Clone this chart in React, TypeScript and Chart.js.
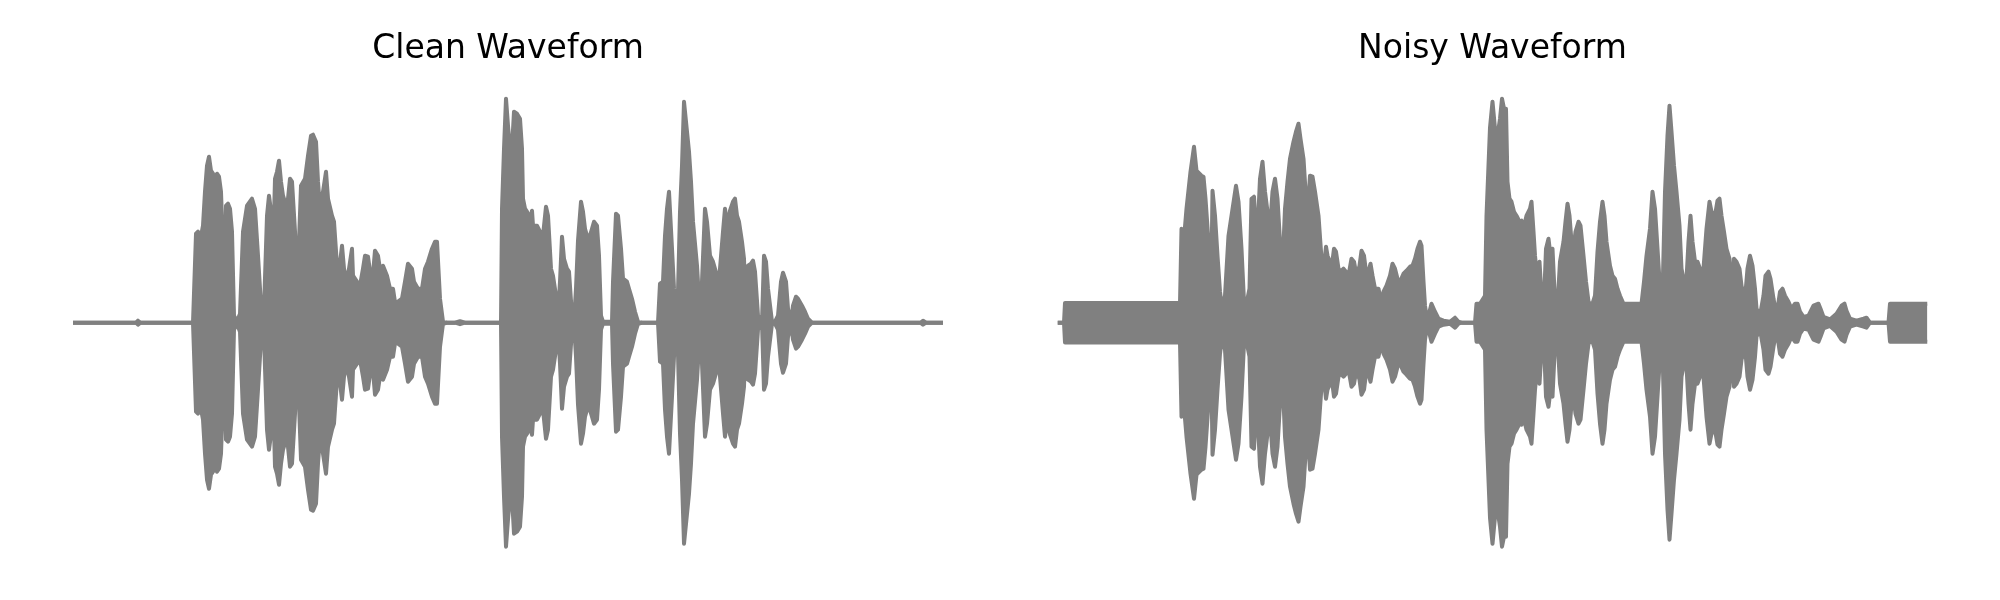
import React, { useEffect, useRef } from "react";
import { Chart, registerables } from "chart.js";

Chart.register(...registerables);

// Titles of the two panels
const panelTitles = ["Clean Waveform", "Noisy Waveform"];

// Clip length in seconds (x axis range)
const clipDuration = 8.7;

// Amplitude envelope of the clean waveform: [time (s), amplitude]
const cleanEnvelope: [number, number][] = [
  [0, 0], [0.63, 0], [0.65, 0.008], [0.675, 0], [1.2, 0],
  [1.23, 0.356], [1.25, 0.364], [1.27, 0.324], [1.3, 0.388], [1.32, 0.524], [1.34, 0.628], [1.36, 0.664], [1.38, 0.608],
  [1.4, 0.596], [1.42, 0.564], [1.44, 0.596], [1.46, 0.584], [1.48, 0.524], [1.5, 0.296], [1.51, 0.028], [1.53, 0.468],
  [1.55, 0.476], [1.57, 0.456], [1.59, 0.364], [1.61, 0.028], [1.64, 0.004], [1.67, 0.036], [1.7, 0.364], [1.74, 0.468],
  [1.79, 0.496], [1.82, 0.456], [1.85, 0.268], [1.89, 0.004], [1.91, 0.056], [1.94, 0.428], [1.96, 0.508], [1.99, 0.416],
  [2.0, 0.268], [2.02, 0.576], [2.04, 0.604], [2.06, 0.648], [2.08, 0.564], [2.1, 0.508], [2.14, 0.456], [2.17, 0.576],
  [2.19, 0.564], [2.22, 0.364], [2.24, 0.164], [2.26, 0.324], [2.28, 0.548], [2.32, 0.576], [2.35, 0.668], [2.38, 0.748],
  [2.4, 0.752], [2.43, 0.724], [2.45, 0.564], [2.47, 0.456], [2.5, 0.524], [2.53, 0.604], [2.55, 0.496], [2.59, 0.428],
  [2.61, 0.404], [2.64, 0.228], [2.66, 0.204], [2.69, 0.308], [2.71, 0.216], [2.74, 0.164], [2.76, 0.216], [2.79, 0.296],
  [2.8, 0.188], [2.84, 0.164], [2.87, 0.148], [2.9, 0.216], [2.92, 0.268], [2.95, 0.264], [2.99, 0.148], [3.02, 0.288],
  [3.05, 0.268], [3.08, 0.188], [3.1, 0.228], [3.14, 0.188], [3.17, 0.136], [3.2, 0.136], [3.23, 0.056], [3.25, 0.084],
  [3.29, 0.096], [3.32, 0.164], [3.35, 0.236], [3.39, 0.216], [3.41, 0.164], [3.45, 0.136], [3.49, 0.136], [3.52, 0.216],
  [3.55, 0.244], [3.59, 0.296], [3.62, 0.324], [3.64, 0.324], [3.67, 0.096], [3.7, 0.004], [3.74, 0], [3.82, 0],
  [3.87, 0.006], [3.92, 0], [4.28, 0],
  [4.29, 0.456], [4.31, 0.696], [4.33, 0.896], [4.35, 0.788], [4.37, 0.696], [4.39, 0.696], [4.41, 0.844], [4.44, 0.836],
  [4.47, 0.816], [4.49, 0.696], [4.5, 0.496], [4.52, 0.456], [4.54, 0.444], [4.57, 0.416], [4.59, 0.448], [4.6, 0.388],
  [4.64, 0.388], [4.67, 0.364], [4.7, 0.348], [4.73, 0.464], [4.75, 0.428], [4.78, 0.216], [4.8, 0.188], [4.83, 0.108],
  [4.85, 0.028], [4.87, 0.164], [4.89, 0.344], [4.91, 0.256], [4.94, 0.216], [4.96, 0.204], [4.99, 0.028], [5.01, 0.004],
  [5.03, 0.136], [5.05, 0.328], [5.08, 0.484], [5.1, 0.444], [5.12, 0.376], [5.14, 0.348], [5.16, 0.336], [5.19, 0.376],
  [5.21, 0.404], [5.24, 0.388], [5.26, 0.268], [5.28, 0.028], [5.3, 0.004], [5.39, 0.004], [5.4, 0.164], [5.43, 0.436],
  [5.45, 0.428], [5.48, 0.296], [5.5, 0.176], [5.54, 0.164], [5.56, 0.136], [5.59, 0.096], [5.62, 0.044], [5.65, 0.004],
  [5.69, 0], [5.85, 0], [5.87, 0.156], [5.9, 0.164], [5.92, 0.348], [5.94, 0.456], [5.96, 0.524], [5.99, 0.296],
  [6.01, 0.136], [6.04, 0.004], [6.05, 0.124], [6.07, 0.444], [6.09, 0.628], [6.11, 0.884], [6.14, 0.764], [6.16, 0.684],
  [6.18, 0.564], [6.2, 0.404], [6.24, 0.228], [6.27, 0.028], [6.29, 0.164], [6.32, 0.456], [6.34, 0.404], [6.37, 0.268],
  [6.4, 0.244], [6.44, 0.188], [6.45, 0.108], [6.47, 0.216], [6.5, 0.364], [6.52, 0.456], [6.54, 0.388], [6.57, 0.448],
  [6.6, 0.484], [6.62, 0.496], [6.64, 0.428], [6.66, 0.404], [6.69, 0.324], [6.71, 0.256], [6.73, 0.028], [6.75, 0.228],
  [6.78, 0.236], [6.8, 0.248], [6.82, 0.204], [6.85, 0.028], [6.89, 0.004], [6.91, 0.268], [6.93, 0.244], [6.95, 0.136],
  [6.99, 0.004], [7.02, 0.004], [7.05, 0.028], [7.08, 0.164], [7.1, 0.2], [7.13, 0.164], [7.15, 0.056], [7.18, 0.004],
  [7.2, 0.068], [7.23, 0.104], [7.25, 0.096], [7.29, 0.068], [7.32, 0.044], [7.35, 0.016], [7.39, 0], [8.475, 0],
  [8.5, 0.008], [8.53, 0], [8.7, 0],
];

// Amplitude envelope of the noisy waveform: [time (s), amplitude]
const noisyEnvelope: [number, number][] = [
  [0, 0], [0.065, 0], [0.075, 0.079], [1.21, 0.079], [1.225, 0.079], [1.24, 0.376], [1.265, 0.336], [1.29, 0.456],
  [1.33, 0.604], [1.365, 0.704], [1.39, 0.608], [1.42, 0.596], [1.44, 0.588], [1.46, 0.584], [1.48, 0.496], [1.51, 0.324],
  [1.525, 0.164], [1.535, 0.068], [1.55, 0.528], [1.575, 0.428], [1.6, 0.268], [1.625, 0.124], [1.64, 0.076], [1.66, 0.084],
  [1.675, 0.108], [1.71, 0.348], [1.74, 0.428], [1.785, 0.548], [1.81, 0.484], [1.84, 0.296], [1.865, 0.084], [1.89, 0.076],
  [1.92, 0.136], [1.94, 0.496], [1.965, 0.504], [1.99, 0.324], [2.01, 0.444], [2.025, 0.576], [2.05, 0.644], [2.075, 0.524],
  [2.1, 0.444], [2.125, 0.376], [2.15, 0.524], [2.175, 0.576], [2.2, 0.496], [2.225, 0.324], [2.25, 0.216], [2.275, 0.456],
  [2.3, 0.564], [2.325, 0.656], [2.36, 0.724], [2.385, 0.764], [2.41, 0.796], [2.43, 0.736], [2.46, 0.656], [2.485, 0.496],
  [2.51, 0.496], [2.525, 0.588], [2.55, 0.584], [2.575, 0.524], [2.61, 0.428], [2.64, 0.256], [2.665, 0.228], [2.685, 0.304],
  [2.7, 0.268], [2.725, 0.244], [2.74, 0.216], [2.765, 0.296], [2.785, 0.284], [2.81, 0.216], [2.83, 0.204], [2.86, 0.216],
  [2.885, 0.204], [2.91, 0.188], [2.94, 0.256], [2.965, 0.244], [2.99, 0.188], [3.02, 0.228], [3.04, 0.288], [3.065, 0.268],
  [3.09, 0.188], [3.11, 0.204], [3.13, 0.236], [3.15, 0.188], [3.175, 0.136], [3.21, 0.136], [3.225, 0.104], [3.24, 0.076],
  [3.26, 0.124], [3.29, 0.148], [3.325, 0.188], [3.35, 0.236], [3.375, 0.216], [3.4, 0.176], [3.425, 0.164], [3.46, 0.196],
  [3.49, 0.208], [3.525, 0.224], [3.55, 0.228], [3.575, 0.256], [3.6, 0.296], [3.625, 0.324], [3.64, 0.308], [3.66, 0.164],
  [3.675, 0.068], [3.69, 0.028], [3.72, 0.044], [3.74, 0.076], [3.775, 0.044], [3.81, 0.016], [3.86, 0.008], [3.925, 0.004],
  [3.975, 0.02], [4.01, 0.004], [4.04, 0], [4.175, 0], [4.19, 0.076], [4.225, 0.076], [4.275, 0.108], [4.29, 0.428],
  [4.325, 0.78], [4.35, 0.884], [4.375, 0.776], [4.4, 0.748], [4.425, 0.816], [4.445, 0.896], [4.465, 0.856], [4.485, 0.856],
  [4.5, 0.564], [4.52, 0.496], [4.54, 0.484], [4.565, 0.444], [4.59, 0.428], [4.62, 0.404], [4.64, 0.408], [4.66, 0.376],
  [4.69, 0.428], [4.725, 0.456], [4.74, 0.484], [4.76, 0.364], [4.775, 0.268], [4.8, 0.164], [4.82, 0.244], [4.84, 0.108],
  [4.865, 0.084], [4.885, 0.296], [4.91, 0.336], [4.93, 0.268], [4.95, 0.296], [4.975, 0.084], [5.0, 0.068], [5.025, 0.244],
  [5.06, 0.324], [5.08, 0.404], [5.1, 0.476], [5.12, 0.428], [5.14, 0.324], [5.16, 0.296], [5.18, 0.364], [5.21, 0.404],
  [5.23, 0.388], [5.26, 0.268], [5.285, 0.164], [5.31, 0.084], [5.325, 0.076], [5.35, 0.076], [5.375, 0.108], [5.4, 0.284],
  [5.425, 0.404], [5.45, 0.484], [5.47, 0.428], [5.49, 0.324], [5.525, 0.228], [5.55, 0.188], [5.575, 0.176], [5.6, 0.136],
  [5.625, 0.108], [5.66, 0.076], [5.84, 0.076], [5.865, 0.164], [5.89, 0.268], [5.925, 0.376], [5.95, 0.524], [5.975, 0.456],
  [6.0, 0.296], [6.025, 0.136], [6.05, 0.108], [6.075, 0.524], [6.1, 0.748], [6.12, 0.868], [6.14, 0.764], [6.165, 0.628],
  [6.19, 0.524], [6.22, 0.388], [6.24, 0.216], [6.265, 0.164], [6.285, 0.136], [6.31, 0.324], [6.33, 0.428], [6.35, 0.324],
  [6.375, 0.244], [6.4, 0.244], [6.425, 0.216], [6.45, 0.164], [6.475, 0.296], [6.49, 0.376], [6.52, 0.484], [6.54, 0.444],
  [6.575, 0.428], [6.6, 0.488], [6.62, 0.496], [6.64, 0.428], [6.665, 0.364], [6.69, 0.296], [6.72, 0.256], [6.74, 0.108],
  [6.765, 0.256], [6.79, 0.244], [6.82, 0.216], [6.84, 0.148], [6.875, 0.096], [6.9, 0.216], [6.925, 0.268], [6.95, 0.228],
  [6.975, 0.136], [6.99, 0.056], [7.025, 0.028], [7.06, 0.108], [7.08, 0.188], [7.11, 0.204], [7.13, 0.176], [7.16, 0.096],
  [7.19, 0.028], [7.225, 0.124], [7.25, 0.136], [7.275, 0.108], [7.31, 0.084], [7.34, 0.056], [7.375, 0.076], [7.4, 0.076],
  [7.425, 0.044], [7.46, 0.023], [7.51, 0.028], [7.56, 0.068], [7.61, 0.076], [7.63, 0.056], [7.66, 0.023], [7.725, 0.013],
  [7.79, 0.036], [7.84, 0.068], [7.87, 0.076], [7.89, 0.048], [7.925, 0.016], [7.99, 0.008], [8.06, 0.016], [8.09, 0.02],
  [8.125, 0], [8.31, 0], [8.325, 0.076], [8.7, 0.076],
];

const GRAY = "#808080";

type WaveProps = {
  title: string;
  envelope: [number, number][];
  left: number;
  padLeft: number;
  padRight: number;
};

function Waveform({ title, envelope, left, padLeft, padRight }: WaveProps) {
  const ref = useRef<HTMLCanvasElement>(null);

  useEffect(() => {
    if (!ref.current) return;
    const upper = envelope.map(([t, a]) => ({ x: t, y: a }));
    const lower = envelope.map(([t, a]) => ({ x: t, y: -a }));
    const common = {
      borderColor: GRAY,
      backgroundColor: GRAY,
      borderWidth: 4,
      pointRadius: 0,
      tension: 0,
      borderJoinStyle: "round" as const,
      borderCapStyle: "butt" as const,
    };
    const chart = new Chart(ref.current, {
      type: "line",
      data: {
        datasets: [
          { ...common, data: upper, fill: false },
          { ...common, data: lower, fill: "-1" },
        ],
      },
      options: {
        responsive: false,
        animation: false,
        events: [],
        layout: { padding: { left: padLeft, right: padRight, top: 0, bottom: 27.3 } },
        plugins: {
          legend: { display: false },
          tooltip: { enabled: false },
          title: {
            display: true,
            text: title,
            color: "#000000",
            font: { family: "'DejaVu Sans'", size: 33, weight: "normal" },
            padding: { top: 29.2, bottom: 3.9 },
          },
        },
        scales: {
          x: { type: "linear", display: false, min: 0, max: clipDuration },
          y: { type: "linear", display: false, min: -1, max: 1 },
        },
      },
    });
    return () => chart.destroy();
  }, [title, envelope, padLeft, padRight]);

  return (
    <canvas
      ref={ref}
      width={1000}
      height={600}
      style={{ position: "absolute", left, top: 0, width: 1000, height: 600 }}
    />
  );
}

export default function App() {
  return (
    <div style={{ position: "absolute", left: 0, top: 0, width: 2000, height: 600, background: "#ffffff" }}>
      <Waveform title={panelTitles[0]} envelope={cleanEnvelope} left={0} padLeft={73} padRight={57} />
      <Waveform title={panelTitles[1]} envelope={noisyEnvelope} left={1000} padLeft={57.5} padRight={72.5} />
    </div>
  );
}
